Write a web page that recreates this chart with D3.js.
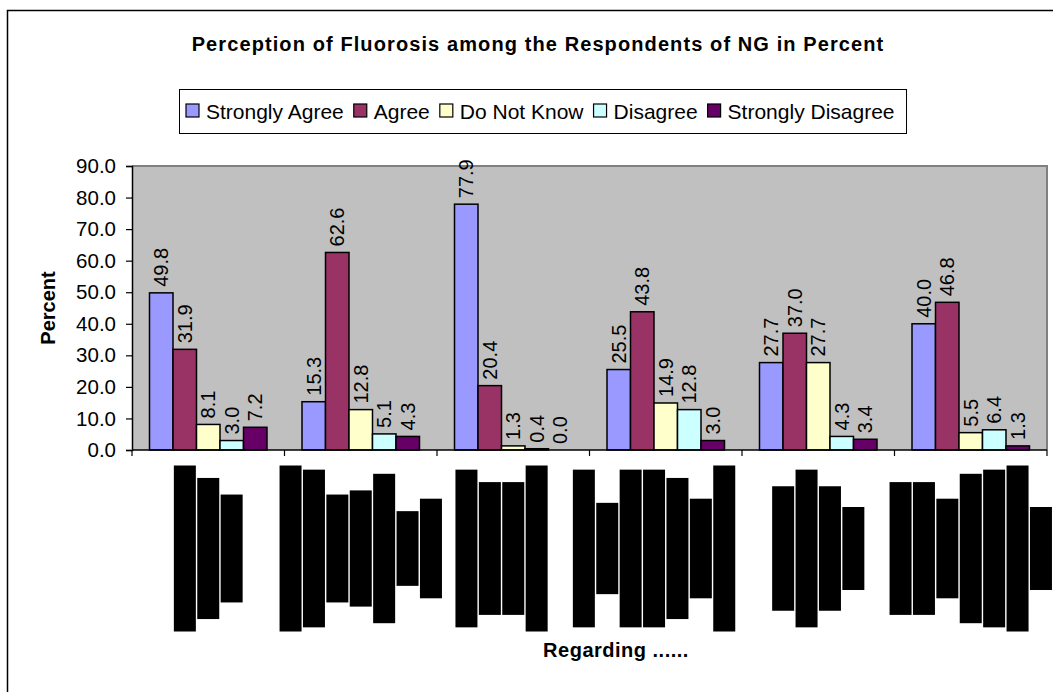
<!DOCTYPE html>
<html>
<head>
<meta charset="utf-8">
<script src="https://cdn.jsdelivr.net/npm/d3@7"></script>
<style>
  body { margin: 0; background: #fff; }
  text { font-family: "Liberation Sans", Arial, sans-serif; }
</style>
</head>
<body>
<div id="container"></div>
<script>
/* DATA */
const categories = ["C1", "C2", "C3", "C4", "C5", "C6"];
const seriesNames = ["Strongly Agree", "Agree", "Do Not Know", "Disagree", "Strongly Disagree"];
const stronglyAgree    = [49.8, 15.3, 77.9, 25.5, 27.7, 40.0];
const agree            = [31.9, 62.6, 20.4, 43.8, 37.0, 46.8];
const doNotKnow        = [8.1, 12.8, 1.3, 14.9, 27.7, 5.5];
const disagree         = [3.0, 5.1, 0.4, 12.8, 4.3, 6.4];
const stronglyDisagree = [7.2, 4.3, 0.0, 3.0, 3.4, 1.3];
const yTicks = [0, 10, 20, 30, 40, 50, 60, 70, 80, 90];
// category labels are unreadable in the picture: characters per (rotated) line
const labelLineChars = [
  [20, 17, 13],
  [20, 19, 13, 14, 18, 9, 12],
  [19, 16, 16, 20, 0],
  [19, 11, 19, 19, 17, 12, 20, 0],
  [15, 19, 15, 10],
  [16, 16, 12, 18, 19, 20, 10]
];

/* CONSTANTS */
const width = 1053, height = 692;
const plot = {left: 132, right: 1047, top: 166, bottom: 450};
const colors = ["#9999FF", "#993366", "#FFFFCC", "#CCFFFF", "#660066"];
const seriesValues = [stronglyAgree, agree, doNotKnow, disagree, stronglyDisagree];

const svg = d3.select("#container")
              .append("svg")
              .attr("width", width)
              .attr("height", height);

// outer chart border (only top and left visible)
svg.append("rect")
   .attr("x", 7.5).attr("y", 10.5)
   .attr("width", 1200).attr("height", 900)
   .attr("fill", "none").attr("stroke", "#000").attr("stroke-width", 1.5);

// TITLE
svg.append("text")
   .attr("x", 538).attr("y", 51)
   .attr("text-anchor", "middle")
   .attr("font-size", 20).attr("font-weight", "bold")
   .attr("letter-spacing", 1.1)
   .text("Perception of Fluorosis among the Respondents of NG in Percent");

// SCALES
const xScale = d3.scaleBand()
                 .domain(categories)
                 .range([plot.left, plot.right]);

const xInner = d3.scaleBand()
                 .domain(d3.range(seriesNames.length))
                 .range([0, xScale.bandwidth()])
                 .paddingOuter(0.745);

const yScale = d3.scaleLinear()
                 .domain([0, 90])
                 .range([plot.bottom, plot.top]);

// PLOT AREA
svg.append("rect")
   .attr("x", plot.left).attr("y", plot.top)
   .attr("width", plot.right - plot.left).attr("height", plot.bottom - plot.top)
   .attr("fill", "#C0C0C0");

svg.append("path")
   .attr("d", `M${plot.left},${plot.top}H${plot.right}V${plot.bottom}`)
   .attr("fill", "none").attr("stroke", "#808080").attr("stroke-width", 2);

// BARS
const groups = svg.selectAll("g.cat")
   .data(categories)
   .join("g")
   .attr("class", "cat")
   .attr("transform", d => `translate(${xScale(d)},0)`);

groups.selectAll("rect.bar")
   .data((d, ci) => seriesValues.map((s, si) => ({si, v: s[ci]})))
   .join("rect")
   .attr("class", "bar")
   .attr("x", d => xInner(d.si))
   .attr("y", d => yScale(d.v))
   .attr("width", xInner.bandwidth())
   .attr("height", d => yScale(0) - yScale(d.v))
   .attr("fill", d => colors[d.si])
   .attr("stroke", "#000").attr("stroke-width", 1.5);

groups.selectAll("text.val")
   .data((d, ci) => seriesValues.map((s, si) => ({si, v: s[ci]})))
   .join("text")
   .attr("class", "val")
   .attr("transform", d => `translate(${xInner(d.si) + xInner.bandwidth() / 2},${yScale(d.v) - 6}) rotate(-90)`)
   .attr("dy", "0.36em")
   .attr("font-size", 20)
   .text(d => d3.format(".1f")(d.v));

// AXES
const yAxis = d3.axisLeft(yScale)
                .tickValues(yTicks)
                .tickFormat(d3.format(".1f"))
                .tickSize(6).tickPadding(10);

const gy = svg.append("g")
   .attr("transform", `translate(${plot.left},0)`)
   .call(yAxis);
gy.select(".domain").attr("stroke", "#000").attr("stroke-width", 1.5);
gy.selectAll(".tick line").attr("stroke", "#000").attr("stroke-width", 1.2);
gy.selectAll(".tick text").attr("font-size", 20.5).attr("font-family", "Liberation Sans, Arial, sans-serif").attr("fill", "#000");

svg.append("line")
   .attr("x1", plot.left).attr("x2", plot.right)
   .attr("y1", plot.bottom).attr("y2", plot.bottom)
   .attr("stroke", "#000").attr("stroke-width", 1.5);

svg.selectAll("line.xtick")
   .data(categories.concat(["end"]))
   .join("line")
   .attr("class", "xtick")
   .attr("x1", (d, i) => plot.left + i * xScale.step())
   .attr("x2", (d, i) => plot.left + i * xScale.step())
   .attr("y1", plot.bottom).attr("y2", plot.bottom + 6)
   .attr("stroke", "#000").attr("stroke-width", 1.2);

// CATEGORY LABELS (obscured rotated lines, drawn as solid blocks)
const charScale = d3.scaleLinear().domain([0, 20]).range([0, 166]);
const linePitch = 23.4, lineThick = 22, labelMid = 548.5;

groups.selectAll("rect.lbl")
   .data((d, ci) => labelLineChars[ci].map((c, li, arr) => ({c, li, n: arr.length})))
   .join("rect")
   .attr("class", "lbl")
   .attr("x", d => xScale.bandwidth() / 2 + (d.li - (d.n - 1) / 2) * linePitch - lineThick / 2)
   .attr("y", d => labelMid - charScale(d.c) / 2)
   .attr("width", lineThick)
   .attr("height", d => charScale(d.c))
   .attr("fill", "#000");

// AXIS TITLES
svg.append("text")
   .attr("transform", `translate(48,${(plot.top + plot.bottom) / 2}) rotate(-90)`)
   .attr("text-anchor", "middle").attr("dy", "0.36em")
   .attr("font-size", 20).attr("font-weight", "bold")
   .text("Percent");

svg.append("text")
   .attr("x", 616).attr("y", 657)
   .attr("text-anchor", "middle")
   .attr("font-size", 20).attr("font-weight", "bold")
   .attr("letter-spacing", 0.5)
   .text("Regarding ......");

// LEGEND
const legend = svg.append("g");
const legendBox = legend.append("rect")
   .attr("x", 179.5).attr("y", 89.5).attr("height", 44)
   .attr("fill", "#fff").attr("stroke", "#000").attr("stroke-width", 1);

let lx = 186;
seriesNames.forEach((name, i) => {
  legend.append("rect")
        .attr("x", lx).attr("y", 104)
        .attr("width", 13).attr("height", 13)
        .attr("fill", colors[i]).attr("stroke", "#000").attr("stroke-width", 1.2);
  const t = legend.append("text")
        .attr("x", lx + 20).attr("y", 118.5)
        .attr("font-size", 21)
        .text(name);
  lx += 20 + t.node().getComputedTextLength() + 10;
});
legendBox.attr("width", lx - 179.5 + 2);
</script>
</body>
</html>
